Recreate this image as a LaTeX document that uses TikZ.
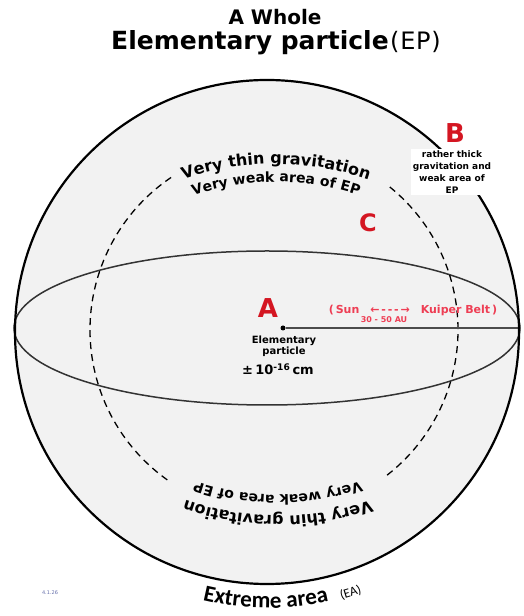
\documentclass[tikz,border=0pt]{standalone}
\usepackage{fontspec}
\setmainfont{DejaVu Sans}
\newfontfamily\calfont{Carlito}
\usetikzlibrary{decorations.text}
\definecolor{ep_red}{RGB}{212,22,34}
\definecolor{au_red}{RGB}{238,62,84}
\definecolor{sphere_gray}{RGB}{242,242,242}
\definecolor{stamp_blue}{RGB}{100,110,170}
\tikzset{
    sphere_line/.style={draw=black, line width=2.2pt},
    equator_line/.style={draw=black!80, line width=1.5pt},
    weak_line/.style={draw=black, line width=1.3pt, dash pattern=on 7pt off 5pt},
    radius_line/.style={draw=black!70, line width=1.4pt},
    zone_letter/.style={text=ep_red, font=\fontsize{26}{26}\selectfont\bfseries, inner sep=0pt, anchor=base},
    zone_note/.style={align=center, font=\fontsize{9}{12}\selectfont\bfseries, inner sep=1.5pt},
    arc_text/.style={decorate, decoration={text along path, text align=center,
                     text format delimiters={|}{|}, text={#1}}},
    rim_text/.style={decorate, decoration={text along path, text align=left,
                     text format delimiters={|}{|}, text={#1}}}
}

\begin{document}
\begin{tikzpicture}[x=1pt, y=1pt, font=\small]
    \useasboundingbox (0,0) rectangle (524,616);
    \coordinate (sc) at (267,284);
    \coordinate (dc) at (274,286);
    \coordinate (tc) at (276,171);
    \coordinate (bc) at (278,383);
    \coordinate (rim) at (519,288);
    % sphere
    \fill[sphere_gray] (sc) circle[radius=252];
    \draw[equator_line] (267,288) ellipse[x radius=253, y radius=77];
    \draw[weak_line] ([shift={(51:184)}]dc) arc[start angle=51, end angle=-53, radius=184];
    \draw[weak_line] ([shift={(124:184)}]dc) arc[start angle=124, end angle=235, radius=184];
    \node[circle, fill=black, inner sep=0pt, minimum size=5pt] (ep) at (283,288) {};
    \draw[radius_line] (ep) -- (rim);
    \draw[sphere_line] (sc) circle[radius=252];
    % titles
    \node[anchor=base, font=\fontsize{20}{20}\selectfont\bfseries] (whole) at (275,591) {A Whole};
    \node[anchor=base] (title) at (276,566)
        {{\fontsize{25}{25}\selectfont\bfseries Elementary particle}\,{\fontsize{24}{24}\selectfont\addfontfeature{LetterSpace=3}(EP)}};
    % zones
    \node[zone_letter] (a_mark) at (268,298) {A};
    \node[zone_note, fill=white] (b_note) at (452,444) {rather thick\\gravitation and\\weak area of\\EP};
    \node[zone_letter] (b_mark) at (455,473) {B};
    \node[zone_letter, font=\fontsize{24}{24}\selectfont\bfseries] (c_mark) at (368,384) {C};
    \node[align=center, font=\fontsize{10}{11}\selectfont\bfseries] (ep_note) at (284,270) {Elementary\\particle};
    \node[anchor=base, font=\fontsize{13}{13}\selectfont\bfseries] (ep_size) at (278,241) {±\,10\textsuperscript{-16}\,cm};
    \node[text=au_red, font=\fontsize{11}{11}\selectfont\bfseries] (sun_belt) at (413,306)
        {(\,Sun\quad ←\,-\,-\,-\,→\quad Kuiper Belt\,)};
    \node[text=au_red, font=\fontsize{8}{8}\selectfont\bfseries] (au_range) at (384,296) {30 - 50 AU};
    % curved labels
    \path[arc_text={|\fontsize{16}{16}\selectfont\bfseries|Very thin gravitation}]
        ([shift={(120:281)}]tc) arc[start angle=120, end angle=60, radius=281];
    \path[arc_text={|\fontsize{14}{14}\selectfont\bfseries|Very weak area of EP}]
        ([shift={(120:263)}]tc) arc[start angle=120, end angle=60, radius=263];
    \path[arc_text={|\fontsize{16}{16}\selectfont\bfseries|Very thin gravitation}]
        ([shift={(300:283)}]bc) arc[start angle=300, end angle=240, radius=283];
    \path[arc_text={|\fontsize{14}{14}\selectfont\bfseries|Very weak area of EP}]
        ([shift={(300:262)}]bc) arc[start angle=300, end angle=240, radius=262];
    \path[rim_text={|\fontsize{23}{23}\calfont\bfseries|Extreme area}]
        ([shift={(256.5:276)}]sc) arc[start angle=256.5, end angle=290, radius=276];
    \path[rim_text={|\fontsize{13}{13}\calfont|(EA)}]
        ([shift={(285.5:278)}]sc) arc[start angle=285.5, end angle=300, radius=278];
    \node[text=stamp_blue, font=\fontsize{5}{5}\selectfont] (stamp) at (50,23) {4.1.26};
\end{tikzpicture}
\end{document}
